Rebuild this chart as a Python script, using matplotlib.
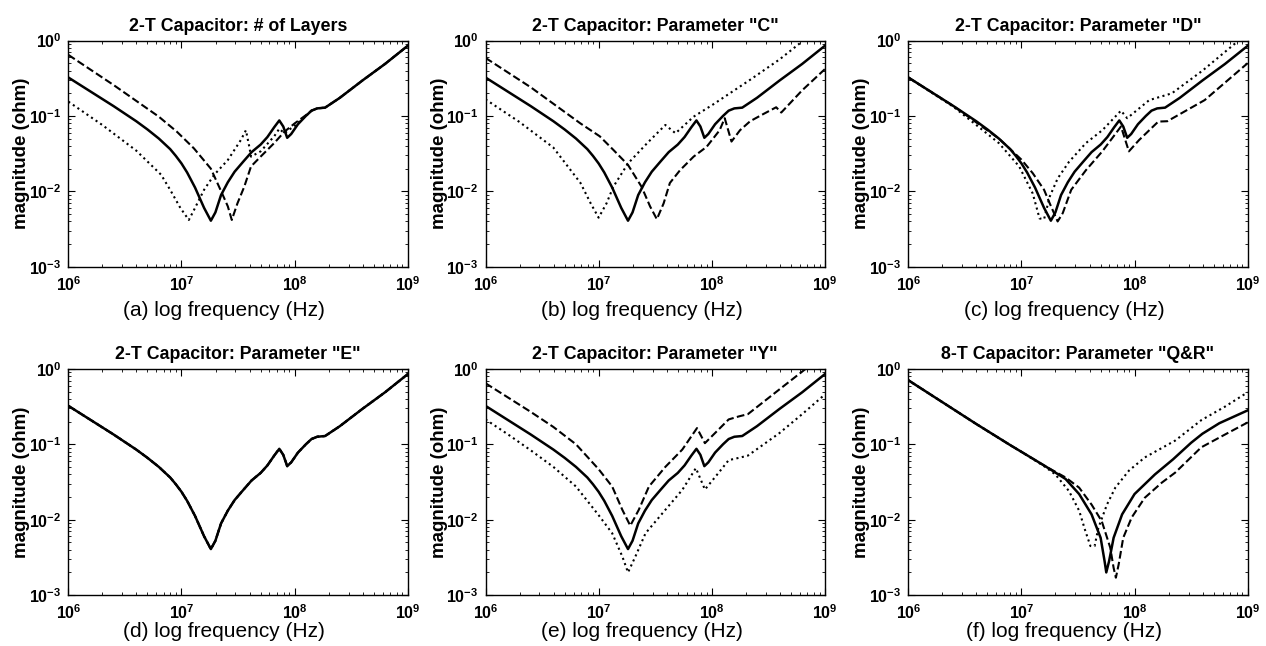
import numpy as np
import matplotlib
matplotlib.use("Agg")
import matplotlib.pyplot as plt
from matplotlib.ticker import LogLocator, NullFormatter, FuncFormatter

plt.rcParams['font.family'] = 'Liberation Sans'
plt.rcParams['mathtext.fontset'] = 'custom'
plt.rcParams['mathtext.rm'] = 'Liberation Sans'
plt.rcParams['mathtext.bf'] = 'Liberation Sans:bold'
plt.rcParams['mathtext.it'] = 'Liberation Sans:italic'

# %% data as log10(frequency) / log10(magnitude)

# reference 2-T capacitor (solid line, panels a-e)
base_f = [6.0, 6.2, 6.4, 6.6, 6.7, 6.8, 6.9, 6.95, 7.0, 7.05, 7.12, 7.2, 7.26, 7.30, 7.35, 7.41, 7.47, 7.55, 7.62,
          7.70, 7.76, 7.82, 7.865, 7.90, 7.935, 7.97, 8.03, 8.10, 8.15, 8.2, 8.27, 8.4, 8.6, 8.8, 9.0]
base_m = [-0.49, -0.68, -0.87, -1.07, -1.18, -1.30, -1.44, -1.53, -1.63, -1.75, -1.95, -2.22, -2.39, -2.28, -2.05, -1.88, -1.74, -1.60, -1.48,
          -1.38, -1.28, -1.15, -1.06, -1.14, -1.29, -1.24, -1.11, -1.00, -0.93, -0.90, -0.89, -0.76, -0.53, -0.31, -0.07]

# (a) number of layers
a_dash_f = [6.0, 6.4, 6.8, 6.96, 7.11, 7.26, 7.36, 7.41, 7.445, 7.495, 7.555, 7.615, 7.70, 7.82, 7.91, 8.0, 8.1,
            8.15, 8.2, 8.27, 8.4, 8.6, 8.8, 9.0]
a_dash_m = [-0.19, -0.59, -1.01, -1.21, -1.43, -1.70, -2.03, -2.20, -2.38, -2.16, -1.94, -1.67, -1.54, -1.36, -1.21, -1.10, -0.99,
            -0.93, -0.90, -0.89, -0.76, -0.53, -0.31, -0.07]
a_dot_f = [6.0, 6.3, 6.6, 6.82, 6.90, 6.99, 7.065, 7.11, 7.20, 7.29, 7.41, 7.525, 7.57, 7.60, 7.615, 7.70, 7.82, 7.865,
           7.91, 8.0, 8.1, 8.15, 8.2, 8.27, 8.4, 8.6, 8.8, 9.0]
a_dot_m = [-0.81, -1.12, -1.46, -1.78, -1.98, -2.22, -2.38, -2.25, -1.98, -1.78, -1.585, -1.32, -1.19, -1.41, -1.54, -1.47, -1.27, -1.17,
           -1.23, -1.13, -1.00, -0.93, -0.90, -0.89, -0.76, -0.53, -0.31, -0.07]

# (b) parameter C
b_dash_f = [6.0, 6.4, 6.84, 7.01, 7.13, 7.26, 7.38, 7.455, 7.515, 7.575, 7.63, 7.72, 7.84, 7.955, 8.07, 8.115, 8.175,
            8.25, 8.34, 8.45, 8.57, 8.615, 8.8, 9.0]
b_dash_m = [-0.23, -0.62, -1.10, -1.27, -1.45, -1.65, -1.94, -2.20, -2.37, -2.16, -1.89, -1.72, -1.54, -1.41, -1.19, -1.03, -1.34,
            -1.19, -1.07, -0.98, -0.885, -0.955, -0.66, -0.38]
b_dot_f = [6.0, 6.3, 6.6, 6.84, 6.93, 7.0, 7.07, 7.13, 7.26, 7.43, 7.59, 7.68, 7.84, 8.01, 8.34, 8.6, 8.81]
b_dot_m = [-0.78, -1.08, -1.42, -1.89, -2.16, -2.35, -2.16, -1.94, -1.63, -1.36, -1.12, -1.23, -1.01, -0.85, -0.52, -0.25, 0.0]

# (c) parameter D
c_dash_f = [6.0, 6.4, 6.8, 7.0, 7.1, 7.2, 7.25, 7.32, 7.365, 7.44, 7.57, 7.715, 7.88, 7.95, 8.04, 8.13, 8.21, 8.29,
            8.62, 9.0]
c_dash_m = [-0.49, -0.87, -1.30, -1.58, -1.76, -1.98, -2.16, -2.40, -2.29, -1.98, -1.72, -1.47, -1.14, -1.47, -1.32, -1.19, -1.075, -1.07,
            -0.79, -0.30]
c_dot_f = [6.0, 6.4, 6.8, 6.98, 7.10, 7.16, 7.20, 7.25, 7.32, 7.42, 7.57, 7.715, 7.88, 7.935, 8.13, 8.33, 8.6, 8.92]
c_dot_m = [-0.49, -0.88, -1.36, -1.67, -2.03, -2.36, -2.37, -2.07, -1.83, -1.61, -1.36, -1.19, -0.93, -1.03, -0.79, -0.70, -0.40, 0.0]

# (e) parameter Y
e_dash_f = [6.0, 6.2, 6.4, 6.6, 6.8, 7.0, 7.12, 7.21, 7.28, 7.355, 7.445, 7.59, 7.74, 7.87, 7.94, 8.03, 8.15, 8.24,
            8.32, 8.6, 8.83]
e_dash_m = [-0.19, -0.38, -0.57, -0.77, -1.0, -1.33, -1.56, -1.87, -2.08, -1.87, -1.56, -1.30, -1.07, -0.785, -0.985, -0.85, -0.67, -0.63,
            -0.60, -0.27, 0.0]
e_dot_f = [6.0, 6.2, 6.4, 6.6, 6.8, 7.0, 7.12, 7.21, 7.26, 7.325, 7.415, 7.59, 7.74, 7.86, 7.94, 8.06, 8.15, 8.24,
           8.32, 8.6, 8.8, 9.0]
e_dot_m = [-0.67, -0.87, -1.08, -1.30, -1.56, -1.94, -2.18, -2.49, -2.70, -2.49, -2.18, -1.87, -1.605, -1.316, -1.60, -1.38, -1.21, -1.18,
           -1.15, -0.85, -0.60, -0.34]

# (f) 8-T capacitor, parameter Q&R
f_solid_f = [6.0, 6.3, 6.6, 6.9, 7.0, 7.21, 7.39, 7.51, 7.62, 7.70, 7.735, 7.75, 7.775, 7.815, 7.89, 8.0, 8.18,
             8.34, 8.5, 8.6, 8.75, 9.0]
f_solid_m = [-0.15, -0.44, -0.73, -1.01, -1.10, -1.29, -1.46, -1.66, -1.93, -2.24, -2.55, -2.70, -2.55, -2.24, -1.93, -1.66, -1.40,
             -1.20, -0.98, -0.86, -0.72, -0.55]
f_dash_f = [6.0, 6.3, 6.6, 6.9, 7.0, 7.21, 7.39, 7.51, 7.62, 7.71, 7.785, 7.815, 7.835, 7.86, 7.90, 7.975, 8.09, 8.24,
            8.36, 8.59, 8.8, 9.0]
f_dash_m = [-0.15, -0.44, -0.73, -1.01, -1.10, -1.29, -1.44, -1.575, -1.80, -2.02, -2.37, -2.64, -2.77, -2.59, -2.24, -1.97, -1.71, -1.51,
            -1.375, -1.04, -0.87, -0.71]
f_dot_f = [6.0, 6.3, 6.6, 6.9, 7.0, 7.21, 7.3, 7.42, 7.51, 7.565, 7.61, 7.647, 7.68, 7.756, 7.83, 7.95, 8.09, 8.36,
           8.59, 8.8, 9.0]
f_dot_m = [-0.15, -0.44, -0.73, -1.01, -1.10, -1.30, -1.40, -1.62, -1.88, -2.15, -2.35, -2.35, -2.11, -1.80, -1.575, -1.35, -1.175, -0.95,
           -0.68, -0.50, -0.31]

titles = ['2-T Capacitor: # of Layers', '2-T Capacitor: Parameter "C"', '2-T Capacitor: Parameter "D"',
          '2-T Capacitor: Parameter "E"', '2-T Capacitor: Parameter "Y"', '8-T Capacitor: Parameter "Q&R"']
xlabels = ['(a) log frequency (Hz)', '(b) log frequency (Hz)', '(c) log frequency (Hz)',
           '(d) log frequency (Hz)', '(e) log frequency (Hz)', '(f) log frequency (Hz)']

curves = [
    [(base_f, base_m, '-'), (a_dash_f, a_dash_m, '--'), (a_dot_f, a_dot_m, ':')],
    [(base_f, base_m, '-'), (b_dash_f, b_dash_m, '--'), (b_dot_f, b_dot_m, ':')],
    [(base_f, base_m, '-'), (c_dash_f, c_dash_m, '--'), (c_dot_f, c_dot_m, ':')],
    [(base_f, base_m, '-'), (base_f, base_m, '--'), (base_f, base_m, ':')],
    [(base_f, base_m, '-'), (e_dash_f, e_dash_m, '--'), (e_dot_f, e_dot_m, ':')],
    [(f_solid_f, f_solid_m, '-'), (f_dash_f, f_dash_m, '--'), (f_dot_f, f_dot_m, ':')],
]

# %% figure

fig = plt.figure(figsize=(12.66, 6.46), dpi=100)

lefts = [0.054, 0.3835, 0.7175]
bottoms = [0.5872, 0.0789]
xlab_y = [-0.152, -0.118]
w, h = 0.268, 0.350

dec_fmt = FuncFormatter(lambda v, p: r'$\mathbf{10^{%d}}$' % int(round(np.log10(v))))

for i in range(6):
    ax = fig.add_axes([lefts[i % 3], bottoms[i // 3], w, h])
    for fx, my, ls in curves[i]:
        lw = 1.8 if ls == '-' else 1.5
        ax.loglog(10 ** np.array(fx), 10 ** np.array(my), color='black', linestyle=ls, linewidth=lw)
    ax.set_xlim(1e6, 1e9)
    ax.set_ylim(1e-3, 1e0)
    ax.set_xticks([1e6, 1e7, 1e8, 1e9])
    ax.set_yticks([1e-3, 1e-2, 1e-1, 1e0])
    ax.xaxis.set_minor_locator(LogLocator(base=10, subs=np.arange(2, 10)))
    ax.yaxis.set_minor_locator(LogLocator(base=10, subs=np.arange(2, 10)))
    ax.xaxis.set_major_formatter(dec_fmt)
    ax.yaxis.set_major_formatter(dec_fmt)
    ax.xaxis.set_minor_formatter(NullFormatter())
    ax.yaxis.set_minor_formatter(NullFormatter())
    ax.tick_params(which='both', direction='in', top=True, right=True, labelsize=11.5)
    ax.tick_params(which='major', length=5)
    ax.tick_params(which='minor', length=2.5)
    ax.tick_params(axis='x', pad=6)
    ax.tick_params(axis='y', pad=5)
    for s in ax.spines.values():
        s.set_linewidth(1.0)
    ax.set_title(titles[i], fontsize=12.8, fontweight='bold', pad=7)
    ax.set_xlabel(xlabels[i], fontsize=15)
    ax.set_ylabel('magnitude (ohm)', fontsize=13.5, fontweight='bold')
    ax.xaxis.set_label_coords(0.46, xlab_y[i // 3])
    ax.yaxis.set_label_coords(-0.112, 0.5)

fig.savefig('out.png', dpi=100)
